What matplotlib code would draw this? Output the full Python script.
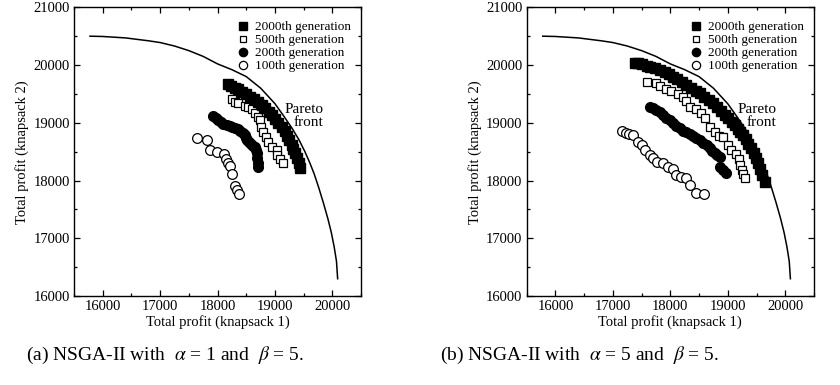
import numpy as np
import matplotlib.pyplot as plt
from matplotlib.ticker import MultipleLocator

plt.rcParams['font.family'] = ['Liberation Serif', 'DejaVu Serif']
plt.rcParams['mathtext.fontset'] = 'stix'

# Pareto front (same in both panels)
front_x = [15780, 16000, 16400, 16800, 17000, 17250, 17500, 17750, 18000, 18250,
           18500, 18750, 19000, 19150, 19300, 19420, 19520, 19600, 19680, 19760,
           19840, 19920, 19980, 20030, 20070, 20090]
front_y = [20500, 20495, 20470, 20420, 20390, 20330, 20250, 20150, 20020, 19920,
           19800, 19600, 19330, 19120, 18900, 18700, 18500, 18320, 18120, 17880,
           17620, 17340, 17100, 16850, 16600, 16300]

# (a) alpha = 1, beta = 5
a_g2000_x = [18177, 18240, 18300, 18363, 18430, 18500, 18566, 18630, 18700, 18770,
             18830, 18890, 18944, 19000, 19060, 19118, 19170, 19215, 19252, 19290,
             19320, 19351, 19380, 19410, 19438]
a_g2000_y = [19672, 19640, 19610, 19580, 19535, 19495, 19453, 19405, 19360, 19308,
             19250, 19190, 19135, 19070, 19000, 18933, 18860, 18780, 18702, 18620,
             18545, 18471, 18390, 18300, 18211]
a_g500_x = [18258, 18304, 18362, 18478, 18536, 18594, 18652, 18710, 18739, 18757,
            18797, 18844, 18884, 18942, 19029, 19041, 19088, 19134]
a_g500_y = [19406, 19366, 19337, 19291, 19268, 19233, 19164, 19106, 19048, 18933,
            18846, 18760, 18673, 18587, 18529, 18442, 18367, 18298]
a_g200_x = [17927, 17970, 18014, 18060, 18101, 18160, 18218, 18260, 18305, 18350,
            18392, 18440, 18479, 18500, 18508, 18545, 18578, 18620, 18653, 18670,
            18682, 18694, 18700, 18711]
a_g200_y = [19118, 19080, 19048, 19010, 18979, 18960, 18945, 18925, 18904, 18885,
            18864, 18830, 18789, 18745, 18702, 18665, 18633, 18600, 18575, 18530,
            18483, 18384, 18310, 18240]
a_g100_x = [17636, 17810, 17868, 17996, 18112, 18147, 18176, 18217, 18246, 18304,
            18345, 18369]
a_g100_y = [18731, 18702, 18529, 18500, 18460, 18367, 18298, 18252, 18113, 17905,
            17836, 17767]

# (b) alpha = 5, beta = 5
b_g2000_x = [17382, 17440, 17500, 17586, 17650, 17730, 17817, 17900, 17980, 18049,
             18120, 18200, 18280, 18360, 18440, 18512, 18590, 18670, 18744, 18810,
             18880, 18947, 19010, 19070, 19120, 19170, 19220, 19265, 19310, 19360,
             19410, 19450, 19490, 19526, 19565, 19600, 19642]
b_g2000_y = [20042, 20030, 20010, 19984, 19965, 19945, 19915, 19880, 19840, 19799,
             19760, 19710, 19655, 19600, 19555, 19510, 19455, 19395, 19337, 19270,
             19200, 19135, 19075, 19015, 18962, 18900, 18845, 18789, 18720, 18640,
             18558, 18470, 18385, 18298, 18200, 18090, 17980]
b_g500_x = [17586, 17759, 17817, 17933, 18020, 18136, 18223, 18280, 18350, 18454,
            18541, 18611, 18698, 18773, 18849, 18918, 19005, 19063, 19138, 19190,
            19219, 19248, 19265, 19294]
b_g500_y = [19712, 19695, 19637, 19580, 19557, 19499, 19453, 19383, 19279, 19233,
            19164, 19077, 18933, 18846, 18771, 18748, 18615, 18529, 18460, 18367,
            18269, 18182, 18113, 18038]
b_g200_x = [17643, 17700, 17759, 17820, 17875, 17930, 17991, 18050, 18107, 18165,
            18223, 18280, 18339, 18400, 18454, 18510, 18570, 18630, 18686, 18730,
            18773, 18820, 18860, 18860, 18910, 18964]
b_g200_y = [19279, 19250, 19222, 19180, 19135, 19090, 19048, 18995, 18945, 18905,
            18864, 18835, 18806, 18770, 18731, 18695, 18656, 18610, 18558, 18515,
            18471, 18435, 18402, 18240, 18190, 18136]
b_g100_x = [17151, 17226, 17284, 17354, 17441, 17499, 17557, 17644, 17702, 17771,
            17875, 17962, 18049, 18107, 18194, 18281, 18350, 18454, 18582]
b_g100_y = [18858, 18829, 18806, 18789, 18673, 18616, 18529, 18442, 18384, 18327,
            18298, 18240, 18194, 18096, 18067, 18038, 17923, 17790, 17767]

panels = [
    (a_g2000_x, a_g2000_y, a_g500_x, a_g500_y, a_g200_x, a_g200_y, a_g100_x, a_g100_y),
    (b_g2000_x, b_g2000_y, b_g500_x, b_g500_y, b_g200_x, b_g200_y, b_g100_x, b_g100_y),
]
captions = [r'(a) NSGA-II with  $\alpha$ = 1 and  $\beta$ = 5.',
            r'(b) NSGA-II with  $\alpha$ = 5 and  $\beta$ = 5.']
caption_x = [26 / 840, 440 / 840]
axes_left = [0.088, 0.627]

fig = plt.figure(figsize=(8.4, 3.85), dpi=100)

for i, p in enumerate(panels):
    ax = fig.add_axes([axes_left[i], 0.231, 0.342, 0.750])
    ax.plot(front_x, front_y, color='black', lw=1.1, zorder=1)
    ax.plot(p[6], p[7], 'o', ms=7, mfc='white', mec='black', mew=0.9,
            label='100th generation', zorder=2)
    ax.plot(p[4], p[5], 'o', ms=7, mfc='black', mec='black',
            label='200th generation', zorder=3)
    ax.plot(p[2], p[3], 's', ms=5.5, mfc='white', mec='black', mew=0.9,
            label='500th generation', zorder=4)
    ax.plot(p[0], p[1], 's', ms=6.5, mfc='black', mec='black',
            label='2000th generation', zorder=5)
    ax.text(19840, 19118, 'Pareto\nfront', ha='right', va='center',
            multialignment='right', fontsize=11, linespacing=1.0)

    ax.set_xlim(15500, 20500)
    ax.set_ylim(16000, 21000)
    ax.xaxis.set_major_locator(MultipleLocator(1000))
    ax.xaxis.set_minor_locator(MultipleLocator(500))
    ax.yaxis.set_major_locator(MultipleLocator(1000))
    ax.yaxis.set_minor_locator(MultipleLocator(500))
    ax.tick_params(which='both', direction='in', top=True, right=True,
                   labelsize=10.5, width=0.9)
    ax.tick_params(which='major', length=4.5, pad=3)
    ax.tick_params(which='minor', length=2.5)
    for s in ax.spines.values():
        s.set_linewidth(1.0)
    ax.set_xlabel('Total profit (knapsack 1)', fontsize=10.5, labelpad=1)
    ax.set_ylabel('Total profit (knapsack 2)', fontsize=10.5, labelpad=3)

    h, l = ax.get_legend_handles_labels()
    ax.legend(h[::-1], l[::-1], loc='upper right', bbox_to_anchor=(1, 0.986),
              frameon=False, fontsize=9.5, labelspacing=0.05, handlelength=0.8,
              handletextpad=0.5, borderaxespad=0, borderpad=0.75, markerscale=0.85)

    fig.text(caption_x[i], 0.078, captions[i], ha='left', va='center', fontsize=14)

fig.savefig('out.png', dpi=100)
